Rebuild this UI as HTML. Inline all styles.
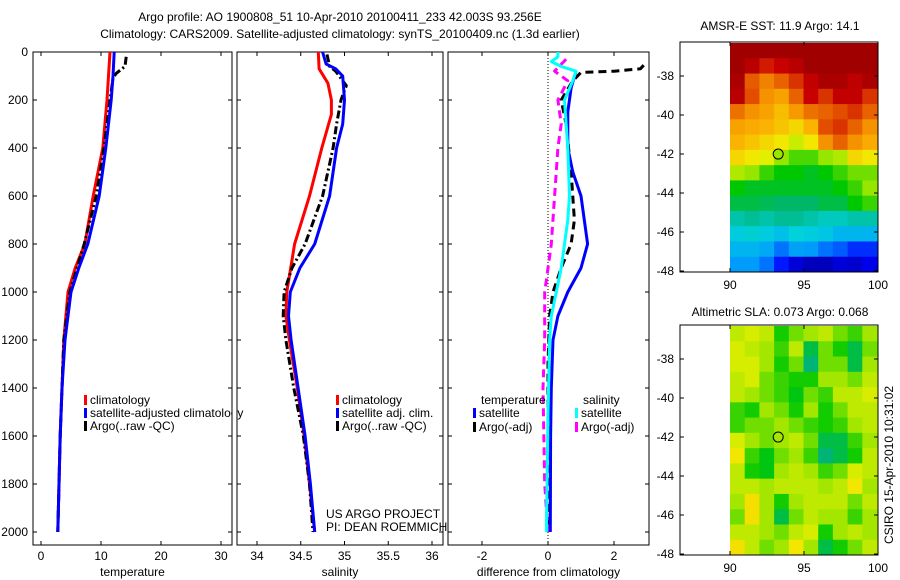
<!DOCTYPE html>
<html><head><meta charset="utf-8">
<style>
html,body{margin:0;padding:0;background:#fff;}
svg{display:block;font-family:"Liberation Sans",sans-serif;}
text{font-size:12px;fill:#000;}
</style></head>
<body>
<svg id="c" width="900" height="580" viewBox="0 0 900 580" xmlns="http://www.w3.org/2000/svg">
<text x="340" y="21" text-anchor="middle">Argo profile: AO 1900808_51 10-Apr-2010 20100411_233 42.003S 93.256E</text>
<text x="340" y="38" text-anchor="middle">Climatology: CARS2009. Satellite-adjusted climatology: synTS_20100409.nc (1.3d earlier)</text>
<text x="780" y="30" text-anchor="middle">AMSR-E SST: 11.9 Argo: 14.1</text>
<text x="780" y="316" text-anchor="middle">Altimetric SLA: 0.073 Argo: 0.068</text>
<text transform="translate(893,465) rotate(-90)" text-anchor="middle">CSIRO 15-Apr-2010 10:31:02</text>
<text x="326" y="518">US ARGO PROJECT</text>
<text x="326" y="531">PI: DEAN ROEMMICH</text>
<g id="layer"></g>
</svg>
<script>
// ---- depth ticks ----
const depthTicks = [0,200,400,600,800,1000,1200,1400,1600,1800,2000];
// ---- temperature panel ----
const tTicks = [0,10,20,30];
const tClimD = [0,200,400,600,800,900,1000,1200,1400,1600,1800,2000];
const tClimV = [11.5,11,10.3,8.7,7.3,5.7,4.5,3.8,3.5,3.2,3.0,2.8];
const tSatD = [0,100,200,400,600,800,900,1000,1200,1400,1600,2000];
const tSatV = [12.2,12,11.7,10.8,9.7,7.8,6.3,5.0,4.0,3.5,3.2,2.8];
const tArgoD = [20,60,70,90,110,200,400,600,800,1000,1200,1400,1600,2000];
const tArgoV = [14.2,14.0,13.5,12.5,12.0,11.5,10.5,9.2,7.2,4.8,3.8,3.5,3.2,2.8];
// ---- salinity panel ----
const sTicks = [34,34.5,35,35.5,36];
const sClimD = [0,70,130,200,260,400,600,800,1000,1100,1200,1400,1600,1800,2000];
const sClimV = [34.70,34.71,34.81,34.85,34.85,34.74,34.60,34.43,34.34,34.33,34.37,34.46,34.54,34.60,34.66];
const sSatD = [0,50,70,100,200,300,400,600,800,900,1000,1100,1200,1400,1600,1800,2000];
const sSatV = [34.75,34.79,34.90,34.98,35.00,34.98,34.91,34.83,34.66,34.49,34.38,34.36,34.39,34.47,34.55,34.61,34.66];
const sArgoD = [10,60,80,140,200,300,400,600,800,900,1000,1100,1200,1400,1600,1800,2000];
const sArgoV = [34.80,34.83,34.90,35.02,34.96,34.91,34.87,34.75,34.55,34.40,34.31,34.30,34.33,34.42,34.53,34.60,34.64];
// ---- difference panel ----
const dTicks = [-2,0,2];
const dTSatD = [80,150,250,400,500,600,700,800,900,1000,1100,1200,1400,1600,2000];
const dTSatV = [0.85,0.7,0.6,0.6,0.75,1.0,1.1,1.2,1.0,0.6,0.3,0.15,0.1,0.08,0.07];
const dSSatD = [0,20,40,60,80,120,200,300,400,600,700,800,900,1000,1100,1200,1500,2000];
const dSSatV = [0.3,0.3,0.1,0.4,0.85,0.75,0.5,0.55,0.6,0.65,0.6,0.5,0.4,0.25,0.1,0.05,0,-0.05];
const dTArgoD = [55,70,80,85,120,200,300,500,700,800,900,1000,1100,1300,2000];
const dTArgoV = [2.9,2.8,2.0,1.0,0.75,0.4,0.55,0.7,0.8,0.7,0.4,0.15,0.05,0,0];
const dSArgoD = [30,80,120,200,300,400,600,800,900,1000,1200,1400,1800,2000];
const dSArgoV = [0.55,0.2,0.6,0.3,0.4,0.3,0.2,0.1,0,-0.1,-0.1,-0.15,-0.1,0];
// ---- maps ----
const lonTicks = [90,95,100];
const latTicks = [-38,-40,-42,-44,-46,-48];
const argoLon = 93.256, argoLat = -42.003;
const sstGrid = [
[1,1,1,1,1,1,1,1,1,1],
[1,.95,.9,.92,.95,1,1,1,1,1],
[.98,.85,.8,.84,.88,.93,.98,.98,.94,.98],
[.95,.86,.78,.76,.84,.92,.88,.93,.93,.88],
[.82,.78,.76,.73,.77,.82,.84,.86,.88,.84],
[.76,.75,.74,.72,.7,.74,.86,.88,.84,.78],
[.74,.72,.7,.68,.64,.68,.78,.84,.78,.75],
[.7,.68,.66,.6,.56,.56,.6,.62,.7,.68],
[.62,.6,.55,.52,.52,.5,.52,.55,.58,.58],
[.52,.5,.5,.5,.5,.5,.5,.52,.55,.6],
[.48,.48,.47,.46,.46,.46,.48,.48,.52,.55],
[.4,.42,.4,.42,.42,.4,.38,.38,.4,.4],
[.34,.36,.34,.32,.35,.34,.33,.3,.3,.3],
[.3,.3,.28,.22,.27,.26,.22,.2,.16,.16],
[.26,.26,.22,.14,.08,.05,.05,.08,.07,.1]];
const slaGrid = [
[.63,.65,.63,.53,.58,.61,.63,.58,.55,.61],
[.65,.63,.61,.55,.63,.48,.58,.53,.48,.58],
[.65,.65,.61,.53,.58,.45,.58,.58,.48,.61],
[.63,.65,.58,.55,.53,.53,.61,.61,.58,.63],
[.63,.61,.58,.55,.51,.58,.55,.63,.63,.65],
[.55,.53,.61,.58,.53,.61,.53,.58,.63,.63],
[.55,.58,.58,.61,.58,.55,.53,.55,.61,.63],
[.65,.61,.58,.61,.63,.58,.48,.48,.55,.61],
[.68,.55,.51,.58,.61,.55,.45,.48,.53,.63],
[.63,.53,.51,.61,.63,.61,.55,.58,.65,.63],
[.63,.63,.61,.63,.63,.63,.61,.63,.68,.61],
[.61,.69,.61,.53,.61,.63,.63,.63,.58,.63],
[.58,.69,.61,.48,.58,.63,.61,.61,.55,.61],
[.63,.63,.61,.58,.63,.65,.53,.61,.63,.61],
[.69,.63,.58,.61,.68,.61,.48,.53,.58,.63]];

const NS="http://www.w3.org/2000/svg";
const L=document.getElementById('layer');
function mk(tag,attrs,parent){const e=document.createElementNS(NS,tag);for(const k in attrs)e.setAttribute(k,attrs[k]);(parent||L).appendChild(e);return e;}
const yD = d => 52 + d*0.24;
const panels = [
 {x0:33,x1:232,fx:v=>41+v*6,ticks:tTicks,lab:'temperature',name:'temperature-panel'},
 {x0:237,x1:443,fx:v=>257+(v-34)*87.5,ticks:sTicks,lab:'salinity',name:'salinity-panel'},
 {x0:448,x1:649,fx:v=>548+v*33,ticks:dTicks,lab:'difference from climatology',name:'difference-panel'}];
const Y0=52,Y1=545;
panels.forEach((p,i)=>{
  const g=mk('g',{});
  
  
  const r=mk('rect',{x:p.x0,y:Y0,width:p.x1-p.x0,height:Y1-Y0,fill:'none',stroke:'#000','stroke-width':1},g);
  
  
  depthTicks.forEach(d=>{
    const y=yD(d);
    mk('line',{x1:p.x0,x2:p.x0+4,y1:y,y2:y,stroke:'#000'},g);
    mk('line',{x1:p.x1,x2:p.x1-4,y1:y,y2:y,stroke:'#000'},g);
    if(i===0){const t=mk('text',{x:28,y:y+4,'text-anchor':'end'},g);t.textContent=d;
      
      }
  });
  p.ticks.forEach(v=>{
    const x=p.fx(v);
    mk('line',{x1:x,x2:x,y1:Y0,y2:Y0+4,stroke:'#000'},g);
    mk('line',{x1:x,x2:x,y1:Y1,y2:Y1-4,stroke:'#000'},g);
    const t=mk('text',{x:x,y:560,'text-anchor':'middle'},g);t.textContent=v;
    
    
  });
  const t=mk('text',{x:(p.x0+p.x1)/2,y:576,'text-anchor':'middle'},g);t.textContent=p.lab;
  
  
});
const zl=mk('line',{x1:548,x2:548,y1:Y0,y2:Y1,stroke:'#000','stroke-dasharray':'1,2'});



function series(D,V,fx,color,dash,name){
  const pts=D.map((d,i)=>fx(V[i]).toFixed(1)+','+yD(d).toFixed(1)).join(' ');
  const e=mk('polyline',{points:pts,fill:'none',stroke:color,'stroke-width':3,'stroke-linejoin':'round'});
  if(dash)e.setAttribute('stroke-dasharray',dash);
  
  
}
const P=panels;
series(tClimD,tClimV,P[0].fx,'#f00',null,'temp-climatology-line');
series(tArgoD,tArgoV,P[0].fx,'#000','8,3,2,3','temp-argo-line');
series(tSatD,tSatV,P[0].fx,'#00f',null,'temp-satellite-line');
series(sClimD,sClimV,P[1].fx,'#f00',null,'sal-climatology-line');
series(sArgoD,sArgoV,P[1].fx,'#000','8,3,2,3','sal-argo-line');
series(sSatD,sSatV,P[1].fx,'#00f',null,'sal-satellite-line');
series(dTArgoD,dTArgoV,P[2].fx,'#000','8,5','diff-temp-argo-line');
series(dSArgoD,dSArgoV,P[2].fx,'#f0f','8,5','diff-sal-argo-line');
series(dTSatD,dTSatV,P[2].fx,'#00f',null,'diff-temp-satellite-line');
series(dSSatD,dSSatV,P[2].fx,'#0ff',null,'diff-sal-satellite-line');

function legend(x,y,color,label){
  const g=mk('g',{});
  
  
  mk('rect',{x:x,y:y-9,width:3,height:10,fill:color},g);
  const t=mk('text',{x:x+6,y:y},g);t.textContent=label;
}
legend(84,404,'#f00','climatology');
legend(84,417,'#00f','satellite-adjusted climatology');
legend(84,430,'#000','Argo(..raw -QC)');
legend(336,404,'#f00','climatology');
legend(336,417,'#00f','satellite adj. clim.');
legend(336,430,'#000','Argo(..raw -QC)');
{const t=mk('text',{x:481,y:404});t.textContent='temperature';
 
 
 const t2=mk('text',{x:583,y:404});t2.textContent='salinity';
 
 }
legend(473,417,'#00f','satellite');
legend(473,431,'#000','Argo(-adj)');
legend(575,417,'#0ff','satellite');
legend(575,431,'#f0f','Argo(-adj)');
mk('rect',{x:232.5,y:405,width:4,height:15,fill:'#fff'});

const cmapStops=[[0,[0,0,140]],[0.12,[0,0,255]],[0.25,[0,150,255]],[0.35,[0,210,220]],[0.45,[0,180,120]],[0.52,[0,200,0]],[0.6,[150,230,0]],[0.67,[240,240,0]],[0.75,[250,170,0]],[0.85,[230,90,0]],[0.92,[200,0,0]],[1,[160,0,0]]];
function cmap(v){
  v=Math.max(0,Math.min(1,v));
  for(let i=1;i<cmapStops.length;i++){
    const [a,ca]=cmapStops[i-1],[b,cb]=cmapStops[i];
    if(v<=b){const t=(v-a)/(b-a);return 'rgb('+ca.map((c,k)=>Math.round(c+(cb[k]-c)*t)).join(',')+')';}
  }
  return 'rgb(160,0,0)';
}
function map(grid,ay0,ay1,name){
  const ax1=878, ix0=730, ix1=877;
  const fx=lon=>730+(lon-90)*14.8;
  const g=mk('g',{});
  
  
  const rows=grid.length, cols=grid[0].length;
  const cw=(ix1-ix0)/cols, ch=(ay1-ay0-1)/rows;
  grid.forEach((row,ri)=>row.forEach((v,ci)=>{
    const c=mk('rect',{x:ix0+ci*cw,y:ay0+1+ri*ch,width:cw+0.5,height:ch+0.5,fill:cmap(v)},g);
    
    
  }));
  mk('rect',{x:680,y:ay0,width:ax1-680,height:ay1-ay0,fill:'none',stroke:'#000'},g);
  const latY=lat=>ay0+34+(-38-lat)*19.5;
  latTicks.forEach(l=>{
    const y=latY(l);
    mk('line',{x1:680,x2:684,y1:y,y2:y,stroke:'#000'},g);
    mk('line',{x1:ax1,x2:ax1-4,y1:y,y2:y,stroke:'#000'},g);
    const t=mk('text',{x:674,y:y+4,'text-anchor':'end'},g);t.textContent=l;
    
    
  });
  lonTicks.forEach(l=>{
    const x=fx(l);
    mk('line',{x1:x,x2:x,y1:ay0,y2:ay0+4,stroke:'#000'},g);
    mk('line',{x1:x,x2:x,y1:ay1,y2:ay1-4,stroke:'#000'},g);
    const t=mk('text',{x:x,y:ay1+17,'text-anchor':'middle'},g);t.textContent=l;
    
    
  });
  const c=mk('circle',{cx:fx(argoLon),cy:latY(argoLat),r:5,fill:'none',stroke:'#000','stroke-width':1},g);
  
  
}
map(sstGrid,42,272,'sst-map');
map(slaGrid,325,555,'sla-map');
</script>
</body></html>
